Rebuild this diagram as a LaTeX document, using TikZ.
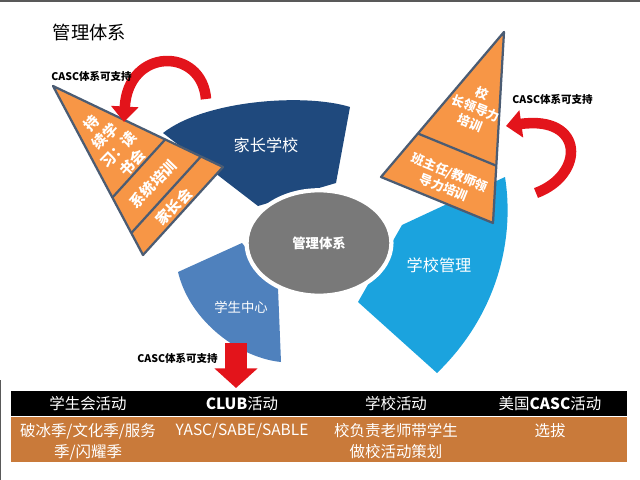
\documentclass[tikz,border=0pt]{standalone}
\usepackage{fontspec}
\setmainfont{Noto Sans CJK SC}
\usetikzlibrary{arrows.meta,calc,shapes.geometric}
\definecolor{jzblue}{HTML}{1F497D}
\definecolor{xgblue}{HTML}{1BA3DE}
\definecolor{xsblue}{HTML}{4F81BD}
\definecolor{pyrfill}{HTML}{F79646}
\definecolor{pyrline}{HTML}{4B5C73}
\definecolor{arrred}{HTML}{E3141B}
\definecolor{rowor}{HTML}{C97A3A}
\newcommand{\fsz}[2]{\fontsize{#1}{#2}\selectfont}

\begin{document}
\begin{tikzpicture}[x=0.025cm, y=-0.025cm,
		pyr/.style={fill=pyrfill, draw=pyrline, line width=1.6pt, line join=round},
		cut/.style={draw=pyrline, line width=1.6pt},
		pyrtext/.style={text=white, font=\bfseries\fsz{10.5}{13.5}, align=center, inner sep=0pt},
		pyrsmall/.style={text=white, font=\bfseries\fsz{9}{11.5}, align=center, inner sep=0pt},
		seclabel/.style={text=white, font=\fsz{11.5}{13}},
		casc/.style={anchor=west, font=\bfseries\fsz{7.5}{9}, inner sep=0pt},
		curvearrow/.style={draw=arrred, line width=7.5pt, -{Triangle[width=19pt,length=11pt]}},
		head/.style={text=white, font=\fsz{11}{13}},
		cell/.style={text=white, font=\fsz{11}{15}, align=center, anchor=north, inner sep=0pt}]
		\useasboundingbox (0,0) rectangle (640,480);
		\draw[gray!70!black, line width=1pt] (0,1) -- (640,1);
		\draw[gray!70!black, line width=1pt] (0.5,380) -- (0.5,480);
		% the three blocks round the hub
		\fill[jzblue] (163,133) .. controls (205,100) and (305,93) .. (350,107)
			-- (336,183) -- (258,206) -- cycle;
		\fill[xgblue] (402,225) -- (505,177) .. controls (515,240) and (497,315) .. (437,373)
			-- (358,302) -- cycle;
		\fill[xsblue] (178,272) -- (242,243) -- (278,288) -- (281,362)
			.. controls (240,358) and (190,322) .. (178,272);
		\node[ellipse, fill=gray!95!black, draw=white, line width=3pt, minimum width=103pt,
			minimum height=75pt, text=white, font=\bfseries\fsz{9.5}{11}] (hub) at (319,243) {管理体系};
		\node[seclabel] (jz) at (266,145) {家长学校};
		\node[seclabel] (xg) at (439,265) {学校管理};
		\node[seclabel, font=\fsz{9.5}{11}] (xs) at (241,307) {学生中心};
		% left pyramid
		\coordinate (la) at (53,86);
		\coordinate (lr) at (223,167);
		\coordinate (lb) at (143,255);
		\draw[pyr] (la) -- (lr) -- (lb) -- cycle;
		\draw[cut] ($(la)!0.66!(lr)$) -- ($(la)!0.66!(lb)$);
		\draw[cut] ($(la)!0.87!(lr)$) -- ($(la)!0.87!(lb)$);
		\node[pyrtext, rotate=46] (l1) at (112,143) {持\\续学\\习：读\\书会};
		\node[pyrtext, rotate=46] (l2) at (153,184) {系统培训};
		\node[pyrtext, rotate=46] (l3) at (174,207) {家长会};
		% right pyramid
		\coordinate (ra) at (504,32);
		\coordinate (rl) at (381,177);
		\coordinate (rr) at (493,223);
		\draw[pyr] (ra) -- (rl) -- (rr) -- cycle;
		\draw[cut] ($(ra)!0.7!(rl)$) -- ($(ra)!0.7!(rr)$);
		\node[pyrsmall, rotate=-22] (r1) at (476,108) {校\\长领导力\\培训};
		\node[pyrsmall, rotate=-22] (r2) at (447,180) {班主任/教师领\\导力培训};
		% red arrows
		\coordinate (a1) at (206,99);
		\coordinate (a2) at (124,122);
		\draw[curvearrow] (a1) .. controls (202,47) and (128,47) .. (a2);
		\coordinate (b1) at (536,193);
		\coordinate (b2) at (506,126);
		\draw[curvearrow] (b1) .. controls (585,175) and (585,115) .. (b2);
		\coordinate (d1) at (236,343);
		\coordinate (d2) at (236,388);
		\draw[draw=arrred, line width=15pt, -{Triangle[width=30pt,length=14pt]}] (d1) -- (d2);
		\node[anchor=west, font=\fsz{13}{15}] (title) at (48,33) {管理体系};
		\node[casc] (c1) at (51,76) {CASC体系可支持};
		\node[casc] (c2) at (512,99) {CASC体系可支持};
		\node[casc] (c3) at (137,358) {CASC体系可支持};
		% table
		\fill[black] (11,391) rectangle (627,416);
		\fill[rowor] (11,417) rectangle (627,462);
		\node[head] (h1) at (88,404) {学生会活动};
		\node[head] (h2) at (242,404) {{\bfseries CLUB}活动};
		\node[head] (h3) at (396,404) {学校活动};
		\node[head] (h4) at (550,404) {美国{\bfseries CASC}活动};
		\node[cell] (v1) at (88,423) {破冰季/文化季/服务\\季/闪耀季};
		\node[cell] (v2) at (242,423) {YASC/SABE/SABLE};
		\node[cell] (v3) at (396,423) {校负责老师带学生\\做校活动策划};
		\node[cell] (v4) at (550,423) {选拔};
\end{tikzpicture}
\end{document}
